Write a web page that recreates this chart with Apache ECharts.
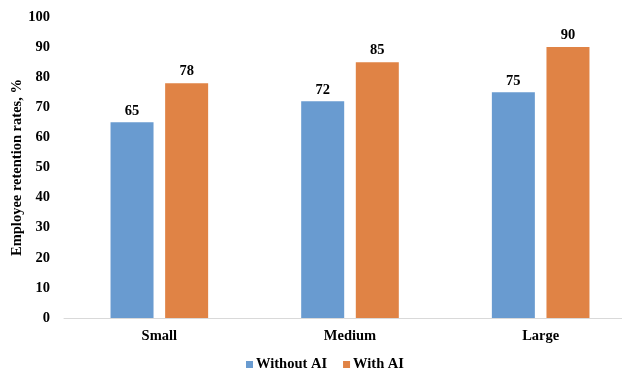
<!DOCTYPE html>
<html>
<head>
<meta charset="utf-8">
<script src="https://cdn.jsdelivr.net/npm/echarts@6/dist/echarts.min.js"></script>
<style>html,body{margin:0;padding:0;background:#fff;}#c{width:622px;height:369px;}</style>
</head>
<body>
<div id="c"></div>
<script>
const categories = ['Small', 'Medium', 'Large'];
const withoutAI = [65, 72, 75];
const withAI = [78, 85, 90];
const yTicks = [0, 10, 20, 30, 40, 50, 60, 70, 80, 90, 100];
const seriesNames = ['Without AI', 'With AI'];

const font = '"Liberation Serif", "Times New Roman", serif';
const fs = 14.5;
const chart = echarts.init(document.getElementById('c'));
chart.setOption({
  animation: false,
  textStyle: { fontFamily: font },
  grid: { left: 64, right: -14, top: 17, bottom: 51, containLabel: false, outerBoundsMode: 'none' },
  legend: {
    data: seriesNames,
    top: 352,
    left: 241,
    icon: 'rect',
    itemWidth: 7,
    itemHeight: 7,
    itemGap: 16,
    textStyle: { fontFamily: font, fontWeight: 'bold', fontSize: fs, color: '#000', padding: [0, 0, 0, -2] }
  },
  xAxis: {
    type: 'category',
    data: categories,
    axisLine: { lineStyle: { color: '#d9d9d9', width: 1 } },
    axisTick: { show: false },
    axisLabel: { fontFamily: font, fontWeight: 'bold', fontSize: fs, color: '#000', margin: 11 }
  },
  yAxis: {
    type: 'value',
    min: yTicks[0],
    max: yTicks[yTicks.length - 1],
    interval: 10,
    name: 'Employee retention rates, %',
    nameLocation: 'middle',
    nameGap: 39,
    nameMoveOverlap: false,
    nameTextStyle: { fontFamily: font, fontWeight: 'bold', fontSize: fs, color: '#000' },
    splitLine: { show: false },
    axisLine: { show: false },
    axisTick: { show: false },
    axisLabel: { fontFamily: font, fontWeight: 'bold', fontSize: fs, color: '#000', margin: 14 }
  },
  series: [
    {
      name: seriesNames[0], type: 'bar', data: withoutAI,
      barWidth: 43, barGap: '27%',
      itemStyle: { color: '#699BD0' },
      label: { show: true, position: 'top', distance: 4, fontFamily: font, fontWeight: 'bold', fontSize: fs, color: '#000' }
    },
    {
      name: seriesNames[1], type: 'bar', data: withAI,
      barWidth: 43,
      itemStyle: { color: '#E08345' },
      label: { show: true, position: 'top', distance: 4, fontFamily: font, fontWeight: 'bold', fontSize: fs, color: '#000' }
    }
  ]
});
</script>
</body>
</html>
